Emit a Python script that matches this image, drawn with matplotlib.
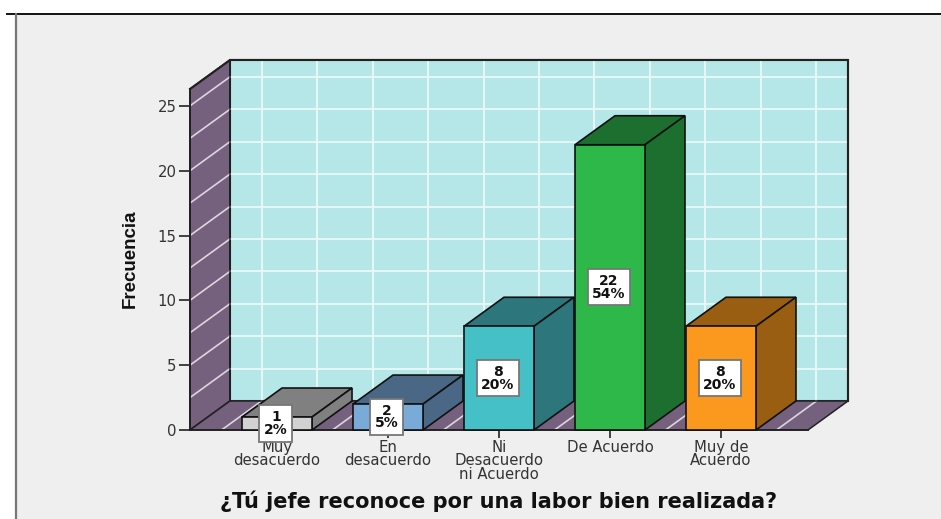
import matplotlib
matplotlib.use('Agg')
import matplotlib.pyplot as plt
from matplotlib.patches import Polygon, Rectangle

# chart values
categories = ['Muy\ndesacuerdo', 'En\ndesacuerdo', 'Ni\nDesacuerdo\nni Acuerdo', 'De Acuerdo', 'Muy de\nAcuerdo']
frequencies = [1, 2, 8, 22, 8]
percents = ['2%', '5%', '20%', '54%', '20%']
y_ticks = [0, 5, 10, 15, 20, 25]
y_grid = [2.5 * i for i in range(1, 11)]
x_grid = [-0.5 + 0.5 * i for i in range(11)]

# colours
front_colors = ['#D2D2D2', '#7AAAD8', '#45C0C6', '#2FB84A', '#FB991E']
dark_colors = ['#808080', '#4A6885', '#2D767B', '#1C6F2E', '#9A5E12']
wall_color = '#B5E7E8'
floor_color = '#75607D'
bg_color = '#EFEFEF'

W, H = 941, 519
fig = plt.figure(figsize=(W / 100, H / 100), dpi=100, facecolor='white')

# grey panel and its top and left rule
fig.patches.append(Rectangle((17 / W, 0), (W - 17) / W, 1 - 15 / H, transform=fig.transFigure, fc=bg_color, ec='none', zorder=-5))
fig.add_artist(plt.Line2D([7 / W, 1], [1 - 14 / H, 1 - 14 / H], color='#111111', lw=1.4))
fig.add_artist(plt.Line2D([16 / W, 16 / W], [0, 1 - 14 / H], color='#777777', lw=1.6))

# axes box is the front plane of the 3D chart
ax_left, ax_right, ax_top, ax_bottom = 190, 808, 89, 430
ax = fig.add_axes([ax_left / W, 1 - ax_bottom / H, (ax_right - ax_left) / W, (ax_bottom - ax_top) / H])
ax.patch.set_visible(False)
x0 = -0.784
x1 = 4.784
y1 = 26.3
ax.set_xlim(x0, x1)
ax.set_ylim(0, y1)

# depth of the chart, in data units
dx = 40 / 111
dy = 29 / 12.96
bar_w = 70 / 111


def poly(points, fc, ec='#111111', lw=1.2, z=1):
    ax.add_patch(Polygon(points, closed=True, fc=fc, ec=ec, lw=lw, zorder=z, clip_on=False, joinstyle='miter'))


# back wall, side wall, floor
poly([(x0 + dx, dy), (x1 + dx, dy), (x1 + dx, y1 + dy), (x0 + dx, y1 + dy)], wall_color, ec='#333333', lw=1.5)
poly([(x0, 0), (x0 + dx, dy), (x0 + dx, y1 + dy), (x0, y1)], floor_color)
poly([(x0, 0), (x1, 0), (x1 + dx, dy), (x0 + dx, dy)], floor_color, ec='none')

# grid lines
for v in y_grid:
    ax.plot([x0 + dx, x1 + dx], [v + dy, v + dy], color='#EAF8F8', lw=1.3, zorder=2, clip_on=False)
    ax.plot([x0, x0 + dx], [v, v + dy], color='#DCD6DF', lw=1.2, zorder=2, clip_on=False)
for x in x_grid:
    ax.plot([x + dx, x + dx], [dy, y1 + dy], color='#EAF8F8', lw=1.3, zorder=2, clip_on=False)
    ax.plot([x, x + dx], [0, dy], color='#DCD6DF', lw=1.2, zorder=2, clip_on=False)

# edges that sit on top of the grid
ax.plot([x0, x0 + dx, x1 + dx, x1 + dx], [y1, y1 + dy, y1 + dy, dy], color='#222222', lw=1.5, zorder=3, clip_on=False)
ax.plot([x0 + dx, x0 + dx, x1 + dx], [y1 + dy, dy, dy], color='#222222', lw=1.1, zorder=3, clip_on=False)
ax.plot([x0, x0 + dx], [0, dy], color='#222222', lw=1.1, zorder=3, clip_on=False)
ax.plot([x1, x1 + dx], [0, dy], color='#222222', lw=1.1, zorder=3, clip_on=False)

# bars
for i, v in enumerate(frequencies):
    l = i - bar_w / 2
    r = i + bar_w / 2
    z = 4 + i
    poly([(l, v), (r, v), (r + dx, v + dy), (l + dx, v + dy)], dark_colors[i], z=z)
    poly([(r, 0), (r + dx, dy), (r + dx, v + dy), (r, v)], dark_colors[i], z=z)
    poly([(l, 0), (r, 0), (r, v), (l, v)], front_colors[i], z=z)

# value labels
for i, v in enumerate(frequencies):
    ax.text(i - 0.01, v / 2, f'{v}\n{percents[i]}', ha='center', va='center', fontsize=10, fontweight='bold',
            color='#111111', linespacing=0.9, zorder=20, clip_on=False, family='DejaVu Sans',
            bbox=dict(boxstyle='square,pad=0.33', fc='white', ec='#777777', lw=1.3))

# axes ticks and text
for side in ['top', 'right']:
    ax.spines[side].set_visible(False)
for side in ['left', 'bottom']:
    ax.spines[side].set_color('#222222')
    ax.spines[side].set_linewidth(1.4)
    ax.spines[side].set_zorder(3)
ax.set_yticks(y_ticks)
ax.set_xticks(range(len(categories)))
ax.set_xticklabels(categories, linespacing=0.88)
ax.tick_params(axis='y', length=8, width=1.2, color='#222222', labelsize=10.7, labelcolor='#333333', pad=1.5)
ax.tick_params(axis='x', length=6, width=1.2, color='#222222', labelsize=10.7, labelcolor='#333333', pad=1)

fig.text(499 / W, 1 - 501 / H, '¿Tú jefe reconoce por una labor bien realizada?', ha='center', va='center',
         fontsize=15, fontweight='bold', color='#111111')
fig.text(130 / W, 1 - 259 / H, 'Frecuencia', rotation=90, ha='center', va='center', fontsize=13.5,
         fontweight='bold', color='#111111', family=['Liberation Sans Narrow', 'Liberation Sans'])

fig.savefig('out.png', dpi=100)
